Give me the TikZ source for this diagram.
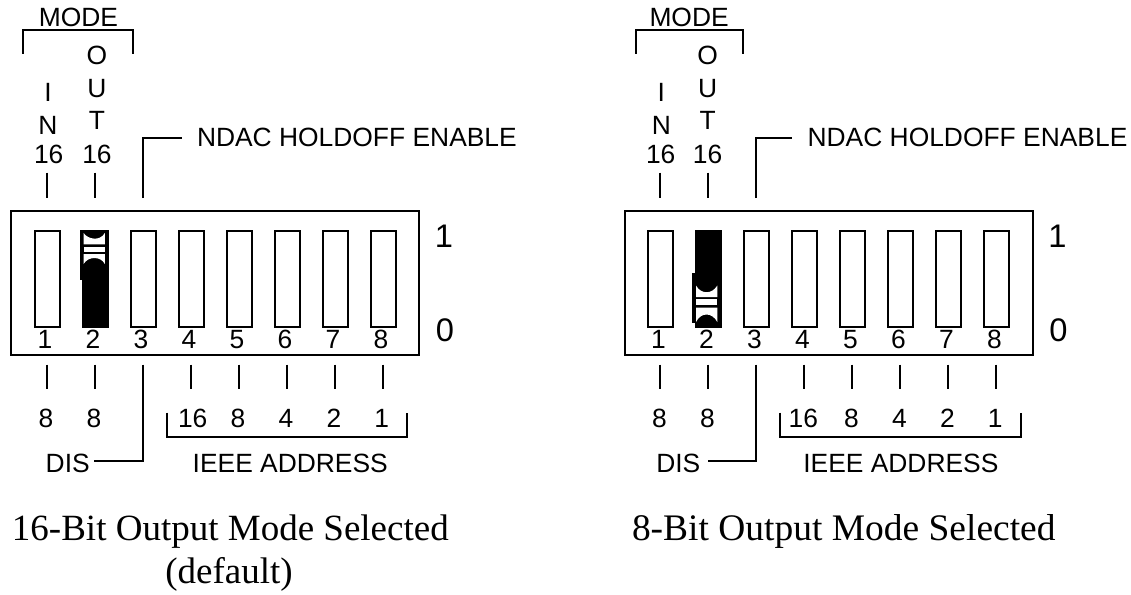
\documentclass[tikz,border=0pt]{standalone}
\usepackage{fontspec}
\setmainfont{Liberation Sans}
\newfontfamily\capfont{Liberation Serif}
\newcommand{\pxu}{0.75pt}
\tikzset{
  wire/.style={line width=1.5pt,line cap=butt,line join=miter},
  lab/.style={inner sep=0pt,outer sep=0pt,anchor=base,font=\fontsize{19.8}{19.8}\selectfont},
  labw/.style={lab,anchor=base west},
  big/.style={inner sep=0pt,outer sep=0pt,anchor=base,font=\fontsize{24.5}{24.5}\selectfont},
  capt/.style={inner sep=0pt,outer sep=0pt,font=\capfont\fontsize{27.75}{27.75}\selectfont},
  captb/.style={inner sep=0pt,outer sep=0pt,font=\capfont\fontsize{28.1}{28.1}\selectfont},
  dipbox/.style={draw,line width=1.5pt,rectangle,inner sep=0pt,outer sep=0pt,minimum width=408*\pxu,minimum height=144*\pxu},
  slotbox/.style={draw,line width=1.5pt,rectangle,inner sep=0pt,outer sep=0pt,minimum width=25.3*\pxu,minimum height=96*\pxu},
}
% #1 name prefix, #2 text delta, #3 mode bracket right, #4 ndac tail end (all px, panel-relative)
\newcommand{\dippanel}[4]{%
  \node[dipbox] (#1box) at (215.2,283.3) {};
  \foreach \i in {1,...,8} {
    \pgfmathsetmacro{\sx}{47.3+48*(\i-1)}
    \pgfmathsetmacro{\tx}{45+48*(\i-1)}
    \node[slotbox] (#1s\i) at (\sx,278.7) {};
    \node[lab] (#1n\i) at (\tx,348.3) {\i};
  }
  % ticks
  \foreach \i in {1,2} {
    \pgfmathsetmacro{\sx}{46.8+48*(\i-1)}
    \coordinate (#1ta\i) at (\sx,172.7);
    \coordinate (#1tb\i) at (\sx,198);
    \draw[wire] (#1ta\i) -- (#1tb\i);
  }
  \foreach \i in {1,2,4,5,6,7,8} {
    \pgfmathsetmacro{\sx}{46.8+48*(\i-1)}
    \coordinate (#1ba\i) at (\sx,364.7);
    \coordinate (#1bb\i) at (\sx,389.3);
    \draw[wire] (#1ba\i) -- (#1bb\i);
  }
  % mode bracket
  \coordinate (#1ma) at (23,53.5);
  \coordinate (#1mb) at (23,29.5);
  \coordinate (#1mc) at (#3,29.5);
  \coordinate (#1md) at (#3,53.5);
  \draw[wire] (#1ma) -- (#1mb) -- (#1mc) -- (#1md);
  % switch 3 leaders
  \coordinate (#1na) at (142.8,198);
  \coordinate (#1nb) at (142.8,138);
  \coordinate (#1nc) at (#4,138);
  \draw[wire] (#1na) -- (#1nb) -- (#1nc);
  \coordinate (#1da) at (142.8,364.7);
  \coordinate (#1db) at (142.8,460.8);
  \coordinate (#1dc) at (94.3,460.8);
  \draw[wire] (#1da) -- (#1db) -- (#1dc);
  % address bracket
  \coordinate (#1aa) at (166.8,412.5);
  \coordinate (#1ab) at (166.8,437);
  \coordinate (#1ac) at (407.3,437);
  \coordinate (#1ad) at (407.3,412.5);
  \draw[wire] (#1aa) -- (#1ab) -- (#1ac) -- (#1ad);
  % labels
  \node[lab] (#1mode) at (78.5+#2,26.7) {MODE};
  \node[lab] (#1i) at (48,101.7) {I};
  \node[lab] (#1in) at (48,134) {N};
  \node[lab] (#1i16) at (48.7+#2/2,163) {16};
  \node[lab] (#1o) at (97+#2,64.5) {O};
  \node[lab] (#1u) at (97+#2,97.3) {U};
  \node[lab] (#1t) at (97+#2,129) {T};
  \node[lab] (#1o16) at (97+#2,163) {16};
  \node[labw] (#1ndac) at (197+#2,146.7) {NDAC HOLDOFF ENABLE};
  \node[big] (#1one) at (444,247.7) {1};
  \node[big] (#1zero) at (445,341.7) {0};
  \node[lab] (#1e1) at (46,427.3) {8};
  \node[lab] (#1e2) at (94,427.3) {8};
  \node[lab] (#1w16) at (192.7+#2,427.3) {16};
  \node[lab] (#1w8) at (238,427.3) {8};
  \node[lab] (#1w4) at (286,427.3) {4};
  \node[lab] (#1w2) at (334,427.3) {2};
  \node[lab] (#1w1) at (381.7,427.3) {1};
  \node[labw] (#1dis) at (45.7+#2,472.7) {DIS};
  \node[labw] (#1ieee) at (192.7+#2,472.7) {IEEE ADDRESS};
}
\begin{document}
\begin{tikzpicture}[x=\pxu,y=-\pxu]
\useasboundingbox (0,0) rectangle (1131,594);
\begin{scope}
  \dippanel{a}{0}{132.5}{181.5}
  % switch 2, up: black body with white windows
  \fill (82,229.7) rectangle (108.4,327.6);
  \fill (80.4,229.7) rectangle (82.5,280);
  \fill[white] (83.6,233) .. controls (88,239.5) and (100,241.5) .. (104.8,233) -- (104.8,244.4) -- (83.6,244.4) -- cycle;
  \fill[white] (83.6,246.6) rectangle (104.8,251.7);
  \fill[white] (83.6,254) -- (104.8,254) -- (104.8,264) .. controls (101,256) and (88,256) .. (83.6,264) -- cycle;
\end{scope}
\begin{scope}[xshift=613.4*\pxu]
  \dippanel{b}{-2.8}{129.9}{178.3}
\end{scope}
\begin{scope}
  \fill (695,229.7) rectangle (721.7,327.6);
  \fill (692.4,273.3) rectangle (695.5,323.3);
  \fill[white] (696,285.5) .. controls (701,294.5) and (712,294.5) .. (717.3,285.5) -- (717.3,297.2) -- (696,297.2) -- cycle;
  \fill[white] (696,299.4) rectangle (717.3,305);
  \fill[white] (696,307.6) -- (717.3,307.6) -- (717.3,322) .. controls (712,312) and (701,312) .. (696,322) -- cycle;
  \node[capt,anchor=base west] (capa) at (12,540) {16-Bit Output Mode Selected};
  \node[capt,anchor=base] (capb) at (229,583.5) {(default)};
  \node[captb,anchor=base west] (capc) at (632,540) {8-Bit Output Mode Selected};
\end{scope}
\end{tikzpicture}
\end{document}
